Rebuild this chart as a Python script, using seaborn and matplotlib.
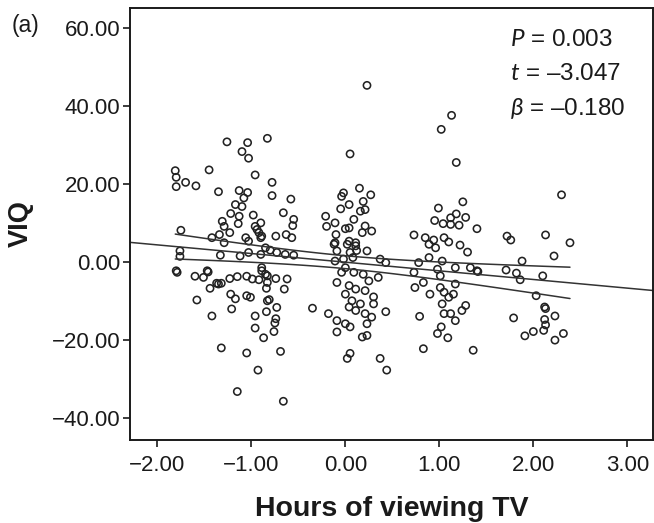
import numpy as np
import pandas as pd
import matplotlib
matplotlib.use("Agg")
import matplotlib.pyplot as plt
import seaborn as sns

# Standardised TV viewing hours and verbal IQ residuals, one entry per child
hours = [
    # low-viewing group
    -1.26, -1.04, -0.83, -1.10, -1.03, -1.81, -1.80, -1.80, -1.70, -1.59,
    -1.45, -0.96, -1.35, -1.13, -1.04, -1.08, -1.17, -1.10, -1.22, -1.13,
    -0.98, -1.31, -1.14, -0.90, -1.29, -0.96, -1.23, -0.92, -1.75, -1.34,
    -1.42, -1.06, -0.90, -1.03, -0.78, -0.78, -0.58, -0.66, -0.55, -0.56,
    -0.63, -0.57, -0.74, -0.94, -0.89, -0.85, -0.80, -0.73, -0.64, -0.55,
    -1.76, -1.33, -1.12, -1.03, -1.29, -0.90, -1.76, -1.80, -1.79, -1.60,
    -1.51, -1.47, -1.44, -1.37, -1.32, -1.23, -1.15, -1.05, -0.99, -0.92,
    -0.89, -0.83, -0.84, -1.58, -1.22, -1.17, -1.05, -1.01, -1.21, -0.83,
    -1.42, -0.96, -0.84, -0.96, -0.87, -1.32, -1.05, -0.93, -1.15, -0.66,
    -0.69, -0.76, -0.74, -0.75, -0.73, -0.81, -0.65, -0.62, -0.74, -0.85,
    -0.89, -0.83, -1.46, -1.35, -0.35, -0.18, -0.21, -0.20,
    # middle group
    0.23, 0.05, -0.02, -0.04, 0.15, 0.27, -0.05, 0.04, 0.19, 0.21,
    0.16, -0.11, 0.09, 0.00, -0.10, 0.04, 0.21, 0.18, 0.28, -0.11,
    0.04, 0.11, -0.12, -0.09, 0.02, 0.11, -0.11, -0.02, 0.00, -0.04,
    -0.09, 0.09, 0.19, 0.25, 0.04, 0.11, 0.00, 0.21, 0.07, 0.16,
    0.04, 0.21, 0.28, 0.11, -0.09, 0.00, 0.05, -0.09, 0.23, 0.18,
    0.23, 0.05, 0.02, 0.37, 0.44, 0.43, 0.35, 0.30, 0.30, 0.05,
    0.08, 0.12, 0.23, 0.37,
    # high-viewing group
    1.13, 1.02, 1.18, 1.25, 0.99, 1.18, 1.28, 1.12, 0.95, 1.04,
    1.12, 1.21, 1.40, 0.73, 0.85, 0.94, 1.05, 1.10, 1.22, 0.89,
    0.96, 1.30, 0.43, 0.78, 0.89, 1.03, 1.17, 1.33, 1.40, 0.73,
    0.98, 1.01, 0.83, 0.74, 1.01, 1.17, 0.90, 1.05, 1.10, 1.15,
    1.03, 1.28, 1.24, 0.79, 1.05, 1.12, 1.17, 1.02, 0.98, 1.09,
    1.36, 0.83,
    # heaviest viewers
    2.30, 1.72, 1.76, 2.13, 2.39, 2.22, 1.88, 1.41, 1.71, 1.82,
    1.86, 2.10, 2.03, 2.12, 2.13, 1.79, 2.23, 2.12, 2.13, 2.11,
    2.00, 1.91, 2.32, 2.23,
]

viq = [
    # low-viewing group
    30.9, 30.7, 31.8, 28.4, 26.7, 23.5, 21.8, 19.4, 20.5, 19.6,
    23.7, 22.4, 18.1, 18.4, 17.9, 16.5, 14.8, 14.3, 12.5, 11.8,
    12.1, 10.5, 9.9, 10.1, 9.2, 9.2, 7.6, 7.6, 8.2, 7.1,
    6.3, 6.3, 6.3, 5.4, 20.5, 17.1, 16.2, 12.7, 11.0, 9.4,
    7.1, 6.3, 6.7, 8.4, 6.7, 3.7, 3.1, 2.5, 2.0, 1.8,
    2.9, 1.8, 1.6, 2.5, 5.0, 2.0, 1.5, -2.2, -2.6, -3.6,
    -3.9, -2.2, -6.7, -5.4, -5.4, -4.2, -3.7, -3.6, -4.3, -4.5,
    -2.2, -3.5, -6.7, -9.7, -8.2, -9.4, -8.6, -9.0, -12.0, -9.9,
    -13.8, -13.8, -12.7, -16.9, -19.4, -22.0, -23.3, -27.7, -33.2, -35.7,
    -22.9, -17.8, -14.5, -15.6, -11.6, -9.6, -6.9, -4.3, -4.2, -3.1,
    -1.4, -5.2, -2.5, -5.6, -11.8, -13.2, 11.8, 9.2,
    # middle group
    45.4, 27.8, 17.8, 16.9, 19.0, 17.3, 13.7, 14.8, 15.6, 13.5,
    13.1, 10.1, 11.0, 8.6, 7.1, 8.8, 9.3, 7.6, 8.0, 5.0,
    5.4, 5.0, 4.6, 2.9, 4.6, 4.2, 0.3, 0.8, -1.4, -2.6,
    -5.2, -2.6, -3.1, -4.8, -6.0, -6.9, -8.2, -7.3, -9.9, -10.7,
    -11.5, -13.2, -14.1, -12.4, -15.0, -15.8, -16.6, -17.9, -15.8, -19.2,
    -18.8, -23.4, -24.7, -24.7, -27.7, -12.7, -3.9, -10.7, -8.9, 2.5,
    1.2, 3.0, 2.9, 0.8,
    # high-viewing group
    37.7, 34.1, 25.6, 15.5, 13.9, 12.4, 11.5, 11.4, 10.7, 9.9,
    9.7, 9.5, 8.6, 7.0, 6.3, 5.7, 6.3, 5.2, 4.4, 4.6,
    3.7, 2.6, -0.1, -0.1, 1.2, 0.3, -1.4, -1.4, -2.2, -2.6,
    -1.8, -3.5, -5.2, -6.5, -6.5, -5.6, -8.2, -7.7, -9.0, -8.2,
    -10.7, -11.1, -12.4, -13.9, -13.2, -13.2, -15.0, -16.6, -18.3, -19.4,
    -22.6, -22.2,
    # heaviest viewers
    17.3, 6.7, 5.7, 7.0, 5.0, 1.6, 0.3, -2.4, -2.0, -2.8,
    -4.5, -3.5, -8.6, -11.5, -11.9, -14.3, -13.8, -14.7, -16.1, -17.5,
    -17.8, -18.9, -18.3, -20.0,
]

stats_lines = [r"$\mathit{P}$ = 0.003", r"$\mathit{t}$ = –3.047", r"$\mathit{\beta}$ = –0.180"]
x_ticks = [-2, -1, 0, 1, 2, 3]
y_ticks = [-40, -20, 0, 20, 40, 60]

df = pd.DataFrame({"hours": hours, "viq": viq})

sns.set_style("white")
plt.rcParams["font.family"] = ["Liberation Sans", "DejaVu Sans"]
plt.rcParams["mathtext.fontset"] = "custom"
plt.rcParams["mathtext.rm"] = "Lato"
plt.rcParams["mathtext.it"] = "Lato:italic"

fig = plt.figure(figsize=(6.54, 5.23), dpi=100)
ax = fig.add_axes([0.199, 0.159, 0.799, 0.826])
ax.set_xlim(-2.29, 3.27)
ax.set_ylim(-45.6, 65.3)

sns.scatterplot(data=df, x="hours", y="viq", ax=ax, marker="o", s=27,
                facecolor="none", edgecolor="#222222", linewidth=1.15, legend=False)

# least-squares fit across the whole axis
sns.regplot(data=df, x="hours", y="viq", ax=ax, scatter=False, ci=None,
            truncate=False, line_kws=dict(color="#333333", lw=1.1))

# 95% confidence limits of the mean over the observed range
x = np.asarray(hours)
y = np.asarray(viq)
n = len(x)
slope, intercept = np.polyfit(x, y, 1)
resid = y - (intercept + slope * x)
s = np.sqrt(np.sum(resid ** 2) / (n - 2))
sxx = np.sum((x - x.mean()) ** 2)
xs = np.linspace(x.min(), x.max(), 100)
fit = intercept + slope * xs
half = 1.968 * s * np.sqrt(1 / n + (xs - x.mean()) ** 2 / sxx)
sns.lineplot(x=xs, y=fit + half, ax=ax, color="#333333", lw=1.1)
sns.lineplot(x=xs, y=fit - half, ax=ax, color="#333333", lw=1.1)

ax.set_xticks(x_ticks)
ax.set_xticklabels([f"{v:.2f}".replace("-", "−") for v in x_ticks])
ax.set_yticks(y_ticks)
ax.set_yticklabels([f"{v:.2f}".replace("-", "−") for v in y_ticks])
ax.tick_params(axis="both", which="both", direction="out", length=5, width=1.2,
               labelsize=16, colors="#1a1a1a", left=True, bottom=True)
ax.tick_params(axis="x", pad=6)
ax.tick_params(axis="y", pad=2)

for side in ax.spines.values():
    side.set_color("#1a1a1a")
    side.set_linewidth(1.4)

ax.set_xlabel("Hours of viewing TV", fontsize=20.5, fontweight="bold", labelpad=14,
              color="#1a1a1a")
ax.set_ylabel("VIQ", fontsize=19.5, fontweight="bold", labelpad=13, color="#1a1a1a")

for i, line in enumerate(stats_lines):
    ax.text(0.727, 0.925 - i * 0.079, line, transform=ax.transAxes,
            fontsize=17.5, color="#1a1a1a", va="center", ha="left")

fig.text(0.018, 0.952, "(a)", fontsize=16.5, color="#1a1a1a", va="center")

fig.savefig("out.png", dpi=100, facecolor="white")
